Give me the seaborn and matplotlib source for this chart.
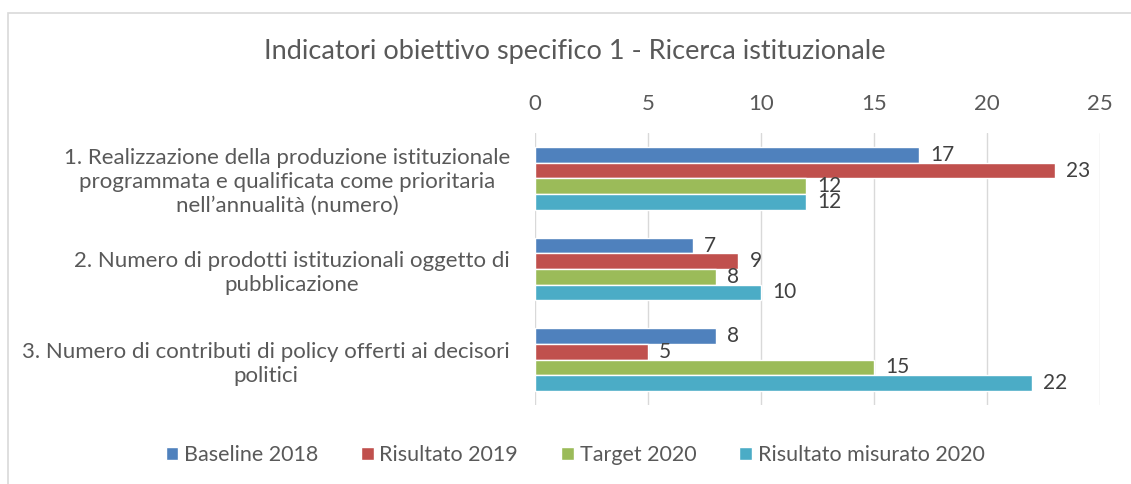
import numpy as np
import pandas as pd
import matplotlib
matplotlib.use("Agg")
import matplotlib.pyplot as plt
import seaborn as sns
from matplotlib.patches import Rectangle

# data
categories = [
    "1. Realizzazione della produzione istituzionale\nprogrammata e qualificata come prioritaria\nnell\u2019annualit\u00e0 (numero)",
    "2. Numero di prodotti istituzionali oggetto di\npubblicazione",
    "3. Numero di contributi di policy offerti ai decisori\npolitici",
]
series = ["Baseline 2018", "Risultato 2019", "Target 2020", "Risultato misurato 2020"]
baseline_2018 = [17, 7, 8]
risultato_2019 = [23, 9, 5]
target_2020 = [12, 8, 15]
misurato_2020 = [12, 10, 22]
colors = ["#4F81BD", "#C0504D", "#9BBB59", "#4BACC6"]

df = pd.DataFrame({
    "categoria": categories * 4,
    "serie": np.repeat(series, 3),
    "valore": baseline_2018 + risultato_2019 + target_2020 + misurato_2020,
})

sns.set_style("white")
plt.rcParams["font.family"] = ["Lato", "DejaVu Sans"]
text_col = "#595959"

fig = plt.figure(figsize=(11.31, 4.84), dpi=100)
ax = fig.add_axes([535 / 1131, 1 - 405 / 484, 565 / 1131, 272 / 484])

sns.barplot(data=df, y="categoria", x="valore", hue="serie", order=categories,
            hue_order=series, palette=colors, orient="h", width=0.69,
            saturation=1, ax=ax, legend=True)

for cont in ax.containers:
    ax.bar_label(cont, padding=8, fontsize=15, color="#404040")

ax.set_xlim(0, 25)
ax.set_ylim(2.5, -0.5)
ax.set_xticks(range(0, 26, 5))
ax.xaxis.tick_top()
ax.tick_params(axis="x", length=0, labelsize=16, labelcolor=text_col, pad=14)
ax.tick_params(axis="y", length=0, labelsize=16, labelcolor=text_col, pad=18)
for lbl in ax.get_yticklabels():
    lbl.set_multialignment("center")
    lbl.set_linespacing(1.25)
ax.set_xlabel("")
ax.set_ylabel("")
ax.grid(axis="x", color="#d9d9d9", linewidth=1)
ax.set_axisbelow(True)
for s in ax.spines.values():
    s.set_visible(False)

handles, labels = ax.get_legend_handles_labels()
ax.get_legend().remove()
fig.legend(handles, labels, loc="center", bbox_to_anchor=(575 / 1131, 1 - 455 / 484),
           ncol=4, frameon=False, fontsize=15.5, labelcolor=text_col,
           handlelength=0.6, handleheight=0.6, handletextpad=0.25, columnspacing=2.0)

fig.text(575 / 1131, 1 - 52 / 484, "Indicatori obiettivo specifico 1 - Ricerca istituzionale",
         ha="center", va="center", fontsize=19.5, color=text_col)

fig.patches.append(Rectangle((8 / 1131, -0.1), 1.2, (484 - 13) / 484 + 0.1,
                             transform=fig.transFigure, fill=False,
                             edgecolor="#d9d9d9", linewidth=1.2))

fig.savefig("out.png", dpi=100)
